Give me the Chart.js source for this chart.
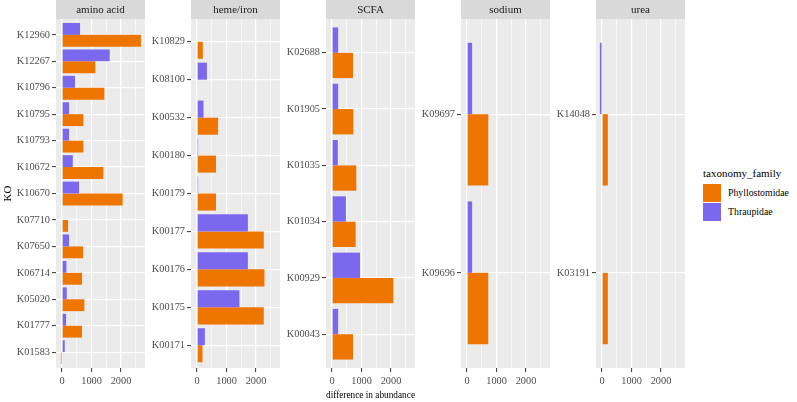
<!DOCTYPE html>
<html>
<head>
<meta charset="utf-8">
<script src="https://cdn.jsdelivr.net/npm/chart.js@4.4.1/dist/chart.umd.min.js"></script>
<style>
    body { margin: 0; background: #fff; width: 797px; height: 402px; position: relative; overflow: hidden; font-family: "Liberation Serif", serif; }
    .panel { position: absolute; top: 0; }
    #legend { position: absolute; left: 703px; top: 166px; color: #000; }
    #legend .title { height: 17px; line-height: 15px; font-size: 11px; }
    #legend .row { height: 19px; display: flex; align-items: center; font-size: 9.8px; }
    #legend .key { width: 18px; height: 18px; margin-right: 7px; }
</style>
</head>
<body>
<div class="panel" style="left:0px"><canvas id="panel0" width="145" height="402"></canvas></div>
<div class="panel" style="left:135px"><canvas id="panel1" width="145" height="402"></canvas></div>
<div class="panel" style="left:270px"><canvas id="panel2" width="145" height="402"></canvas></div>
<div class="panel" style="left:405px"><canvas id="panel3" width="145" height="402"></canvas></div>
<div class="panel" style="left:540px"><canvas id="panel4" width="145" height="402"></canvas></div>

<div id="legend">
    <div class="title">taxonomy_family</div>
    <div class="row"><div class="key" style="background:#EE7600"></div>Phyllostomidae</div>
    <div class="row"><div class="key" style="background:#7B68EE"></div>Thraupidae</div>
</div>

<script>
// facet values, top to bottom
const aminoKO = ['K12960', 'K12267', 'K10796', 'K10795', 'K10793', 'K10672', 'K10670', 'K07710', 'K07650', 'K06714', 'K05020', 'K01777', 'K01583'];
const aminoThraupidae = [610, 1616, 440, 237, 237, 362, 576, null, 237, 147, 158, 136, 90];
const aminoPhyllostomidae = [2678, 1130, 1435, 723, 723, 1401, 2056, 203, 712, 678, 757, 678, -40];

const hemeKO = ['K10829', 'K08100', 'K00532', 'K00180', 'K00179', 'K00177', 'K00176', 'K00175', 'K00171'];
const hemeThraupidae = [null, 333, 218, 35, 35, 1724, 1724, 1437, 264];
const hemePhyllostomidae = [195, null, 713, 644, 644, 2264, 2287, 2264, 184];

const scfaKO = ['K02688', 'K01905', 'K01035', 'K01034', 'K00929', 'K00043'];
const scfaThraupidae = [206, 206, 194, 469, 949, 206];
const scfaPhyllostomidae = [709, 720, 823, 800, 2080, 709];

const sodiumKO = ['K09697', 'K09696'];
const sodiumThraupidae = [171, 171];
const sodiumPhyllostomidae = [720, 720];

const ureaKO = ['K14048', 'K03191'];
const ureaThraupidae = [-75, null];
const ureaPhyllostomidae = [195, 195];

const xTicks = [0, 500, 1000, 1500, 2000, 2500];
const xMin = -207, xMax = 2815;

const serif = '"Liberation Serif", serif';

// grey panel + strip on top, like a ggplot facet
const facetBg = {
    id: 'facetBg',
    beforeDraw(chart, args, opts) {
        const { ctx, chartArea: a } = chart;
        ctx.save();
        ctx.fillStyle = '#EBEBEB';
        ctx.fillRect(a.left, a.top, a.right - a.left, a.bottom - a.top);
        ctx.fillStyle = '#D9D9D9';
        ctx.fillRect(a.left, 0, a.right - a.left, a.top);
        ctx.fillStyle = '#1A1A1A';
        ctx.font = '11px ' + serif;
        ctx.textAlign = 'center';
        ctx.textBaseline = 'middle';
        ctx.fillText(opts.label, (a.left + a.right) / 2, a.top / 2 + 0.5);
        ctx.restore();
    }
};

function toPoints(values) {
    return values.map((v, i) => ({ x: v, y: i })).filter(p => p.x !== null);
}

function facetChart(id, label, ko, thr, phy, xTitle, yTitle) {
    return new Chart(document.getElementById(id), {
        type: 'bar',
        data: {
            datasets: [
                { label: 'Thraupidae', data: toPoints(thr), backgroundColor: '#7B68EE', borderWidth: 0 },
                { label: 'Phyllostomidae', data: toPoints(phy), backgroundColor: '#EE7600', borderWidth: 0 }
            ]
        },
        plugins: [facetBg],
        options: {
            indexAxis: 'y',
            responsive: false,
            animation: false,
            devicePixelRatio: 1,
            layout: { padding: { top: 19, left: 0, right: 0, bottom: 0 } },
            datasets: { bar: { categoryPercentage: 0.9, barPercentage: 1.0 } },
            scales: {
                x: {
                    type: 'linear',
                    min: xMin,
                    max: xMax,
                    offset: false,
                    afterBuildTicks: s => { s.ticks = xTicks.map(v => ({ value: v })); },
                    afterFit: s => { s.height = 34; },
                    ticks: {
                        autoSkip: false,
                        maxRotation: 0,
                        padding: 3,
                        color: '#4D4D4D',
                        font: { family: serif, size: 10.3 },
                        callback: v => (v % 1000 === 0 ? String(v) : '')
                    },
                    grid: {
                        offset: false,
                        color: '#FFFFFF',
                        lineWidth: c => (c.tick && c.tick.value % 1000 === 0 ? 1.2 : 0.6),
                        tickColor: c => (c.tick && c.tick.value % 1000 === 0 ? '#333333' : 'rgba(0,0,0,0)'),
                        tickLength: 4,
                        tickWidth: 1
                    },
                    border: { display: false },
                    title: {
                        display: !!xTitle,
                        text: xTitle || '',
                        color: '#000',
                        font: { family: serif, size: 11 },
                        padding: { top: 0, bottom: 0 }
                    }
                },
                y: {
                    type: 'linear',
                    reverse: true,
                    min: -0.6,
                    max: ko.length - 0.4,
                    offset: false,
                    afterBuildTicks: s => { s.ticks = ko.map((k, i) => ({ value: i })); },
                    afterFit: s => { s.width = 56; },
                    ticks: {
                        autoSkip: false,
                        padding: 2,
                        color: '#4D4D4D',
                        font: { family: serif, size: 10.3 },
                        callback: v => ko[v]
                    },
                    grid: {
                        offset: false,
                        color: '#FFFFFF',
                        lineWidth: 1.2,
                        tickColor: '#333333',
                        tickLength: 4,
                        tickWidth: 1
                    },
                    border: { display: false },
                    title: {
                        display: !!yTitle,
                        text: yTitle || '',
                        color: '#000',
                        font: { family: serif, size: 11 },
                        padding: { top: 1.5, bottom: 0 }
                    }
                }
            },
            plugins: {
                legend: { display: false },
                tooltip: { enabled: false },
                facetBg: { label: label }
            }
        }
    });
}

// make sure the serif face is ready before the canvases draw text
document.fonts.load('11px "Liberation Serif"').then(() => {
    facetChart('panel0', 'amino acid', aminoKO, aminoThraupidae, aminoPhyllostomidae, null, 'KO');
    facetChart('panel1', 'heme/iron', hemeKO, hemeThraupidae, hemePhyllostomidae, null, null);
    facetChart('panel2', 'SCFA', scfaKO, scfaThraupidae, scfaPhyllostomidae, 'difference in abundance', null);
    facetChart('panel3', 'sodium', sodiumKO, sodiumThraupidae, sodiumPhyllostomidae, null, null);
    facetChart('panel4', 'urea', ureaKO, ureaThraupidae, ureaPhyllostomidae, null, null);
});
</script>
</body>
</html>
